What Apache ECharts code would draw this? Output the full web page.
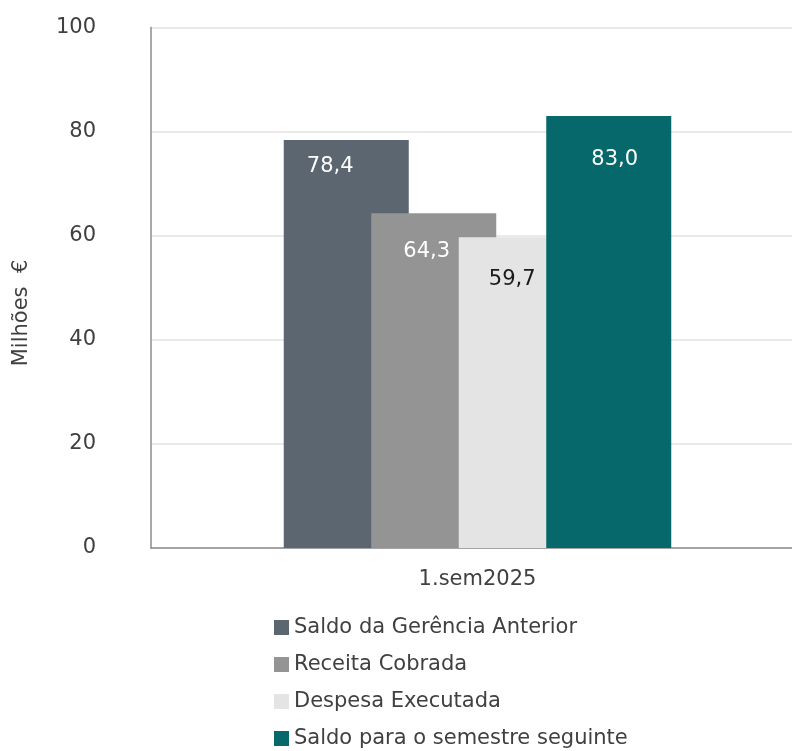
<!DOCTYPE html>
<html>
<head>
<meta charset="utf-8">
<script src="https://cdn.jsdelivr.net/npm/echarts@6/dist/echarts.min.js"></script>
<style>html,body{margin:0;padding:0;background:#fff}#c{width:792px;height:751px}</style>
</head>
<body>
<div id="c"></div>
<script>
const categories = ['1.sem2025'];
const seriesNames = ['Saldo da Gerência Anterior', 'Receita Cobrada', 'Despesa Executada', 'Saldo para o semestre seguinte'];
const saldoAnterior = [78.4];
const receitaCobrada = [64.3];
const despesaExecutada = [59.7];
const saldoSeguinte = [83.0];
const yTicks = [0, 20, 40, 60, 80, 100];

const FONT = 'DejaVu Sans';
const FS = 21;
const colors = ['#5b6670', '#949494', '#e4e4e4', '#07686b'];
const labelColors = ['#ffffff', '#ffffff', '#1a1a1a', '#ffffff'];
const labelOffsets = [[-16, 16], [-7, 28], [-9, 32], [6, 33]];
const values = [saldoAnterior, receitaCobrada, despesaExecutada, saldoSeguinte];

const chart = echarts.init(document.getElementById('c'), null, {renderer: 'canvas'});
chart.setOption({
  animation: false,
  textStyle: {fontFamily: FONT},
  grid: {left: 151, top: 27.5, height: 520.5, width: 653, containLabel: false, outerBoundsMode: 'none'},
  legend: {
    orient: 'vertical', left: 274, top: 617, height: 140, padding: 0,
    itemWidth: 15, itemHeight: 15, itemGap: 16,
    icon: 'rect',
    textStyle: {fontFamily: FONT, fontSize: FS, lineHeight: 21, color: '#404040', padding: [0, 0, 0, 0]},
    data: seriesNames
  },
  xAxis: {
    type: 'category', data: categories,
    axisLine: {lineStyle: {color: '#8c8c8c', width: 1.5}},
    axisTick: {show: false},
    axisLabel: {fontFamily: FONT, fontSize: FS, color: '#404040', margin: 21}
  },
  yAxis: {
    type: 'value', min: yTicks[0], max: yTicks[yTicks.length - 1], interval: 20,
    axisLine: {show: true, lineStyle: {color: '#8c8c8c', width: 1.5}},
    axisTick: {show: false},
    splitLine: {lineStyle: {color: '#e3e3e3', width: 1.5}},
    axisLabel: {fontFamily: FONT, fontSize: FS, color: '#404040', margin: 55}
  },
  graphic: [{
    type: 'text', x: 22, y: 313, rotation: Math.PI / 2,
    style: {text: 'Milhões  €', fontFamily: FONT, fontSize: FS, fill: '#404040', align: 'center', verticalAlign: 'middle'}
  }],
  series: seriesNames.map((name, i) => ({
    name, type: 'bar', data: values[i],
    barWidth: 125, barGap: '-30%',
    itemStyle: {color: colors[i]},
    label: {
      show: true, position: 'insideTop', distance: 0, offset: labelOffsets[i],
      fontFamily: FONT, fontSize: FS, color: labelColors[i],
      formatter: p => p.value.toFixed(1).replace('.', ',')
    }
  }))
});
</script>
</body>
</html>
